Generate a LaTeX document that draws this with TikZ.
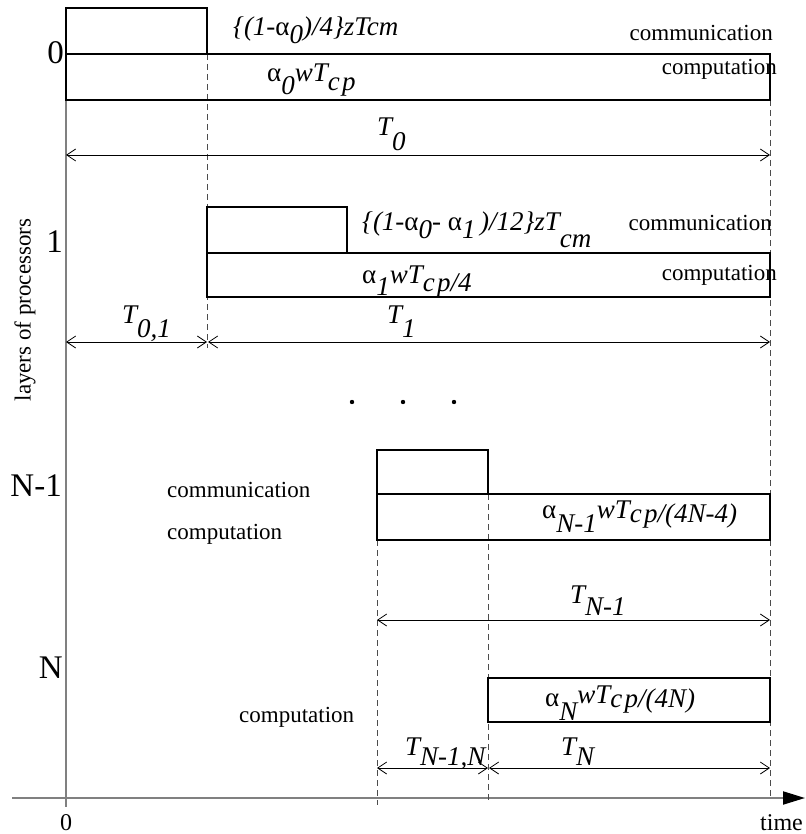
\documentclass[tikz,border=0pt]{standalone}
\usepackage{fontspec}
\setmainfont{Liberation Serif}
\usetikzlibrary{arrows.meta}
\newcommand\lo[2][0.35em]{\raisebox{-#1}{#2}}
\newcommand\al{{\upshape α}}
\begin{document}
\begin{tikzpicture}[x=1pt,y=-1pt,
  box/.style={draw=black,line width=1.2pt,inner sep=0pt,outer sep=0pt,anchor=north west},
  dimline/.style={line width=0.8pt,{Straight Barb[length=9pt,width=12pt,line width=0.8pt]}-{Straight Barb[length=9pt,width=12pt,line width=0.8pt]}},
  guide/.style={draw=black!70,line width=0.8pt,dash pattern=on 6pt off 4pt},
  axis/.style={draw=black!50,line width=2pt},
  word/.style={font=\fontsize{23}{23}\selectfont,inner sep=0pt},
  frm/.style={font=\fontsize{27}{27}\selectfont\itshape,inner sep=0pt,anchor=base west},
  tlab/.style={font=\fontsize{27}{27}\selectfont\itshape,inner sep=0pt,anchor=base west},
  lay/.style={font=\fontsize{33}{33}\selectfont,inner sep=0pt,anchor=base east},
  small/.style={font=\fontsize{24}{24}\selectfont,inner sep=0pt},
]
\useasboundingbox (0,0) rectangle (805,834);
% axes
\coordinate (ytop) at (66,8);
\coordinate (ybot) at (66,807);
\coordinate (xl) at (12,798);
\coordinate (xr) at (805,798);
\draw[axis] (ytop) -- (ybot);
\draw[axis,-{Triangle[length=22pt,width=13pt,color=black]}] (xl) -- (xr);
% guides
\coordinate (g1a) at (207,54);  \coordinate (g1b) at (207,348);
\coordinate (g2a) at (770,100); \coordinate (g2b) at (770,797);
\coordinate (g3a) at (377,540); \coordinate (g3b) at (377,805);
\coordinate (g4a) at (488,494); \coordinate (g4b) at (488,800);
\draw[guide] (g1a) -- (g1b);
\draw[guide] (g2a) -- (g2b);
\draw[guide] (g3a) -- (g3b);
\draw[guide] (g4a) -- (g4b);
% layer 0
\node[box,minimum width=141pt,minimum height=46pt] (cm0) at (66,8) {};
\node[box,minimum width=704pt,minimum height=46pt] (cp0) at (66,54) {};
% layer 1
\node[box,minimum width=140pt,minimum height=46pt] (cm1) at (207,207) {};
\node[box,minimum width=563pt,minimum height=44pt] (cp1) at (207,253) {};
% layer N-1
\node[box,minimum width=111pt,minimum height=44pt] (cmN1) at (377,450) {};
\node[box,minimum width=393pt,minimum height=46pt] (cpN1) at (377,494) {};
% layer N
\node[box,minimum width=282pt,minimum height=44pt] (cpN) at (488,678) {};
% dimension arrows
\coordinate (d0a) at (66,155);  \coordinate (d0b) at (770,155);
\coordinate (d1a) at (66,342);  \coordinate (d1b) at (207,342);
\coordinate (d2a) at (208,342); \coordinate (d2b) at (770,342);
\coordinate (d3a) at (377,620); \coordinate (d3b) at (770,620);
\coordinate (d4a) at (377,768); \coordinate (d4b) at (488,768);
\coordinate (d5a) at (489,768); \coordinate (d5b) at (770,768);
\draw[dimline] (d0a) -- (d0b);
\draw[dimline] (d1a) -- (d1b);
\draw[dimline] (d2a) -- (d2b);
\draw[dimline] (d3a) -- (d3b);
\draw[dimline] (d4a) -- (d4b);
\draw[dimline] (d5a) -- (d5b);
% formulas
\node[frm] (f1) at (233,36) {\{(1-\al\lo[0.26em]{0})/4\}zTcm};
\node[frm] (f2) at (267,82) {\al\lo[0.48em]{0}wT\lo[0.3em]{c\kern0.08em p}};
\node[tlab] (t0) at (377,136) {T\lo[0.55em]{0}};
\node[frm] (f4) at (362,230) {\{(1-\al\lo[0.3em]{0}- \al\lo[0.3em]{1}\,)/12\}zT\lo[0.65em]{cm}};
\node[frm] (f5) at (362,283) {\al\lo[0.45em]{1}wT\lo[0.3em]{c\kern0.08em p/4}};
\node[tlab] (t01) at (122,323) {T\lo[0.55em]{0,1}};
\node[tlab] (t1) at (387,323) {T\lo[0.55em]{1}};
\node[frm] (f8) at (542,518) {\al\lo[0.55em]{N-1}wT\lo[0.15em]{c\kern0.08em p/(4N-4)}};
\node[tlab] (tn1) at (570,603) {T\lo[0.45em]{N-1}};
\node[frm] (f10) at (545,706) {\al\lo[0.55em]{N}\raisebox{0.1em}{wT}\lo[0.05em]{c\kern0.08em p/(4N)}};
\node[tlab] (tn1n) at (405,755) {T\lo[0.4em]{N-1,N}};
\node[tlab] (tn) at (561,755) {T\lo[0.4em]{N}};
% words
\node[word,anchor=base east] (w1) at (773,41) {communication};
\node[word,anchor=base east] (w2) at (777,75) {computation};
\node[word,anchor=base east] (w3) at (772,230) {communication};
\node[word,anchor=base east] (w4) at (777,280) {computation};
\node[word,anchor=base west] (w5) at (167,497) {communication};
\node[word,anchor=base west] (w6) at (167,539) {computation};
\node[word,anchor=base west] (w7) at (239,722) {computation};
\node[word,rotate=90] (w8) at (25,310) {layers of processors};
% layer labels
\node[lay] (l0) at (64,64) {0};
\node[lay] (l1) at (63,252) {1};
\node[lay] (lN1) at (62,496) {N-1};
\node[lay] (lN) at (63,678) {N};
\node[small,anchor=base] (o) at (66,830) {0};
\node[small,anchor=base east] (tm) at (803,830) {time};
% dots
\coordinate (p1) at (352,402); \coordinate (p2) at (403,402); \coordinate (p3) at (454,402);
\fill (p1) circle (2.2pt);
\fill (p2) circle (2.2pt);
\fill (p3) circle (2.2pt);
\end{tikzpicture}
\end{document}
